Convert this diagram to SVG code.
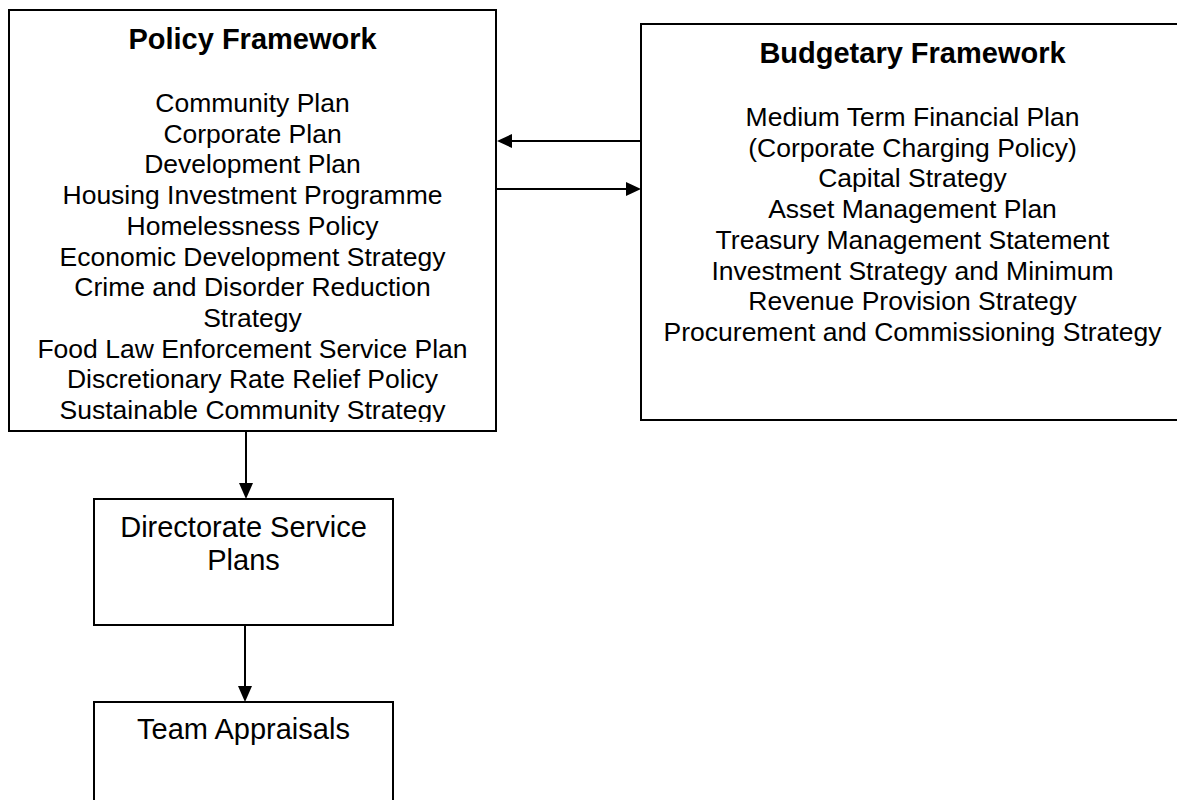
<svg xmlns="http://www.w3.org/2000/svg" width="1177" height="800" viewBox="0 0 1177 800">
<style>
.box{fill:#fff;stroke:#000;stroke-width:2}
.t{font-family:"Liberation Sans",Arial,sans-serif;font-size:26.5px;fill:#000;text-anchor:middle}
.h{font-family:"Liberation Sans",Arial,sans-serif;font-size:29px;font-weight:bold;fill:#000;text-anchor:middle}
.b{font-family:"Liberation Sans",Arial,sans-serif;font-size:29px;fill:#000;text-anchor:middle}
.ln{stroke:#000;stroke-width:2;fill:none}
.ah{fill:#000}
</style>
<defs>
<clipPath id="pclip"><rect x="10" y="11" width="485" height="411"/></clipPath>
</defs>
<rect width="1177" height="800" fill="#fff"/>
<g id="policy">
<rect class="box" x="9" y="10" width="487" height="421"/>
<g clip-path="url(#pclip)">
<text class="h" x="252.5" y="49">Policy Framework</text>
<text class="t" x="252.5" y="112">Community Plan</text>
<text class="t" x="252.5" y="142.7">Corporate Plan</text>
<text class="t" x="252.5" y="173.4">Development Plan</text>
<text class="t" x="252.5" y="204.1">Housing Investment Programme</text>
<text class="t" x="252.5" y="234.8">Homelessness Policy</text>
<text class="t" x="252.5" y="265.5">Economic Development Strategy</text>
<text class="t" x="252.5" y="296.2">Crime and Disorder Reduction</text>
<text class="t" x="252.5" y="326.9">Strategy</text>
<text class="t" x="252.5" y="357.6">Food Law Enforcement Service Plan</text>
<text class="t" x="252.5" y="388.3">Discretionary Rate Relief Policy</text>
<text class="t" x="252.5" y="419">Sustainable Community Strategy</text>
</g>
</g>
<g id="budget">
<rect class="box" x="641" y="24" width="544" height="396"/>
<text class="h" x="912.5" y="63">Budgetary Framework</text>
<text class="t" x="912.5" y="126">Medium Term Financial Plan</text>
<text class="t" x="912.5" y="156.7">(Corporate Charging Policy)</text>
<text class="t" x="912.5" y="187.4">Capital Strategy</text>
<text class="t" x="912.5" y="218.1">Asset Management Plan</text>
<text class="t" x="912.5" y="248.8">Treasury Management Statement</text>
<text class="t" x="912.5" y="279.5">Investment Strategy and Minimum</text>
<text class="t" x="912.5" y="310.2">Revenue Provision Strategy</text>
<text class="t" x="912.5" y="340.9">Procurement and Commissioning Strategy</text>
</g>
<g id="directorate">
<rect class="box" x="94" y="499" width="299" height="126"/>
<text class="b" x="243.5" y="537">Directorate Service</text>
<text class="b" x="243.5" y="570">Plans</text>
</g>
<g id="team">
<rect class="box" x="94" y="702" width="299" height="110"/>
<text class="b" x="243.5" y="739">Team Appraisals</text>
</g>
<g id="connectors">
<path class="ln" d="M641,141 H510"/>
<polygon class="ah" points="497,141 512,134 512,148"/>
<path class="ln" d="M496,189 H627"/>
<polygon class="ah" points="641,189 626,182 626,196"/>
<path class="ln" d="M246,431 V485"/>
<polygon class="ah" points="246,499 239,483 253,483"/>
<path class="ln" d="M245,625 V688"/>
<polygon class="ah" points="245,702 238,686 252,686"/>
</g>
</svg>
